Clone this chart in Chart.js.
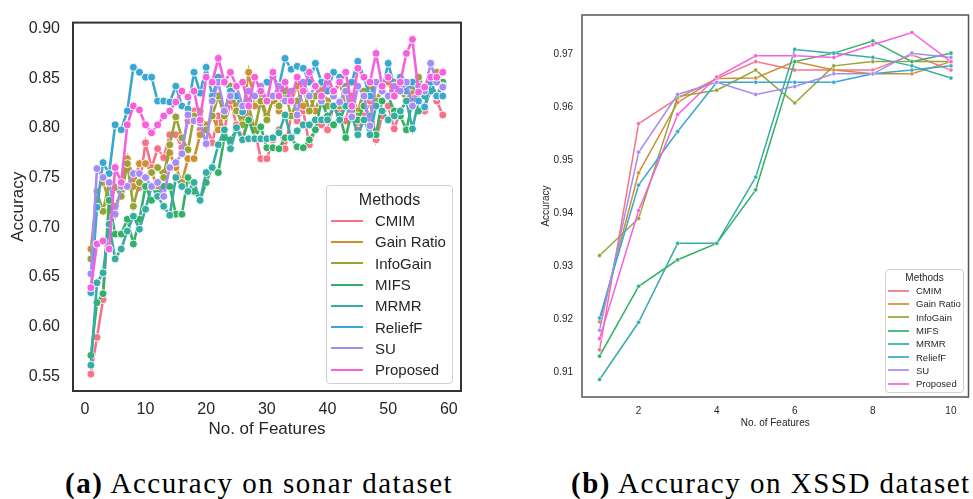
<!DOCTYPE html>
<html>
<head>
<meta charset="utf-8">
<script src="https://cdn.jsdelivr.net/npm/chart.js@4.4.1/dist/chart.umd.min.js"></script>
<style>
  body { margin: 0; background: #fff; width: 973px; height: 499px; position: relative; overflow: hidden; font-family: "Liberation Sans", Arial, sans-serif; }
  canvas { position: absolute; }
  #sonarChart { left: 0; top: 0; }
  #xssdChart { left: 530px; top: 0; }
  .legend { position: absolute; background: rgba(255,255,255,0.85); border: 1px solid #d0d0d0; border-radius: 4px; color: #262626; box-sizing: border-box; }
  .legend .ttl { text-align: center; }
  .legend .row { display: flex; align-items: center; white-space: nowrap; }
  .legend .swatch { display: inline-block; }
  #legendA { left: 326px; top: 185px; width: 127px; height: 199px; padding-top: 3px; }
  #legendA .ttl { font-size: 16px; line-height: 21px; }
  #legendA .row { font-size: 15px; height: 21.3px; padding-left: 4px; }
  #legendA .swatch { width: 32px; height: 2px; margin-right: 12px; }
  #legendB { left: 885px; top: 269px; width: 79px; height: 124px; padding-top: 1px; }
  #legendB .ttl { font-size: 10px; line-height: 13px; }
  #legendB .row { font-size: 9.5px; height: 13.3px; padding-left: 2px; }
  #legendB .swatch { width: 21px; height: 2px; margin-right: 7px; opacity: 0.85; }
  .caption { position: absolute; top: 467px; font-family: "Liberation Serif", "Times New Roman", serif; font-size: 29px; letter-spacing: 1.5px; color: #000; white-space: nowrap; }
  #capA { left: 65px; }
  #capB { left: 571px; }
</style>
</head>
<body>
<canvas id="sonarChart" width="470" height="450"></canvas>
<canvas id="xssdChart" width="443" height="440"></canvas>
<div id="legendA" class="legend"></div>
<div id="legendB" class="legend"></div>
<div id="capA" class="caption"><b>(a)</b> Accuracy on sonar dataset</div>
<div id="capB" class="caption"><b>(b)</b> Accuracy on XSSD dataset</div>

<script>
// ---- shared ----
const methods = ['CMIM', 'Gain Ratio', 'InfoGain', 'MIFS', 'MRMR', 'ReliefF', 'SU', 'Proposed'];
const colors = ['#f77189', '#ce9032', '#97a431', '#32b166', '#36ada4', '#39a7d0', '#a48cf4', '#f561dd'];

// ---- (a) sonar dataset ----
const sonarFeatures = [1, 2, 3, 4, 5, 6, 7, 8, 9, 10, 11, 12, 13, 14, 15, 16, 17, 18, 19, 20,
  21, 22, 23, 24, 25, 26, 27, 28, 29, 30, 31, 32, 33, 34, 35, 36, 37, 38, 39, 40,
  41, 42, 43, 44, 45, 46, 47, 48, 49, 50, 51, 52, 53, 54, 55, 56, 57, 58, 59];

const sonarCMIM = [0.552, 0.589, 0.627, 0.725, 0.740, 0.745, 0.769, 0.750, 0.740, 0.785,
  0.760, 0.779, 0.770, 0.793, 0.793, 0.780, 0.807, 0.817, 0.798, 0.803,
  0.785, 0.812, 0.798, 0.827, 0.803, 0.790, 0.812, 0.798, 0.769, 0.769,
  0.788, 0.798, 0.779, 0.812, 0.807, 0.817, 0.783, 0.798, 0.803, 0.798,
  0.822, 0.817, 0.807, 0.832, 0.798, 0.812, 0.827, 0.788, 0.812, 0.822,
  0.799, 0.817, 0.827, 0.832, 0.837, 0.817, 0.842, 0.827, 0.813];
const sonarGainRatio = [0.678, 0.736, 0.745, 0.727, 0.721, 0.736, 0.769, 0.741, 0.764, 0.764,
  0.755, 0.741, 0.755, 0.775, 0.760, 0.745, 0.769, 0.769, 0.793, 0.803,
  0.812, 0.798, 0.817, 0.837, 0.822, 0.812, 0.856, 0.822, 0.832, 0.812,
  0.827, 0.817, 0.837, 0.827, 0.842, 0.822, 0.832, 0.817, 0.837, 0.827,
  0.832, 0.846, 0.822, 0.832, 0.817, 0.837, 0.842, 0.827, 0.837, 0.846,
  0.832, 0.842, 0.827, 0.837, 0.846, 0.832, 0.851, 0.856, 0.846];
const sonarInfoGain = [0.668, 0.736, 0.716, 0.745, 0.740, 0.731, 0.764, 0.721, 0.745, 0.750,
  0.755, 0.760, 0.750, 0.783, 0.811, 0.790, 0.778, 0.812, 0.817, 0.798,
  0.812, 0.832, 0.812, 0.842, 0.817, 0.803, 0.822, 0.798, 0.827, 0.808,
  0.832, 0.822, 0.837, 0.812, 0.827, 0.842, 0.817, 0.832, 0.846, 0.822,
  0.837, 0.822, 0.842, 0.827, 0.812, 0.837, 0.846, 0.827, 0.842, 0.832,
  0.846, 0.837, 0.827, 0.842, 0.851, 0.837, 0.846, 0.832, 0.842];
const sonarMIFS = [0.571, 0.624, 0.633, 0.727, 0.693, 0.693, 0.708, 0.683, 0.708, 0.741,
  0.727, 0.734, 0.741, 0.741, 0.713, 0.713, 0.750, 0.736, 0.727, 0.745,
  0.760, 0.755, 0.790, 0.788, 0.798, 0.788, 0.808, 0.790, 0.801, 0.780,
  0.780, 0.779, 0.790, 0.790, 0.781, 0.780, 0.788, 0.798, 0.827, 0.812,
  0.803, 0.812, 0.790, 0.817, 0.808, 0.822, 0.812, 0.793, 0.827, 0.832,
  0.817, 0.812, 0.798, 0.827, 0.817, 0.822, 0.837, 0.832, 0.846];
const sonarMRMR = [0.561, 0.644, 0.654, 0.703, 0.668, 0.678, 0.696, 0.711, 0.698, 0.718,
  0.741, 0.731, 0.721, 0.712, 0.750, 0.741, 0.736, 0.745, 0.727, 0.755,
  0.760, 0.783, 0.798, 0.779, 0.800, 0.788, 0.789, 0.789, 0.789, 0.789,
  0.790, 0.795, 0.813, 0.790, 0.797, 0.803, 0.803, 0.808, 0.808, 0.808,
  0.822, 0.808, 0.822, 0.812, 0.793, 0.808, 0.793, 0.822, 0.817, 0.808,
  0.812, 0.817, 0.827, 0.799, 0.827, 0.832, 0.837, 0.832, 0.842];
const sonarReliefF = [0.634, 0.720, 0.765, 0.754, 0.803, 0.798, 0.817, 0.861, 0.856, 0.851,
  0.851, 0.827, 0.827, 0.826, 0.842, 0.822, 0.819, 0.856, 0.835, 0.861,
  0.832, 0.851, 0.846, 0.837, 0.832, 0.816, 0.827, 0.832, 0.842, 0.846,
  0.852, 0.842, 0.870, 0.859, 0.862, 0.860, 0.846, 0.865, 0.846, 0.837,
  0.856, 0.851, 0.837, 0.846, 0.867, 0.851, 0.832, 0.846, 0.837, 0.865,
  0.842, 0.851, 0.837, 0.846, 0.827, 0.821, 0.846, 0.832, 0.832];
const sonarSU = [0.653, 0.759, 0.750, 0.745, 0.713, 0.741, 0.741, 0.754, 0.754, 0.750,
  0.741, 0.745, 0.731, 0.760, 0.765, 0.774, 0.813, 0.807, 0.805, 0.784,
  0.827, 0.846, 0.817, 0.832, 0.842, 0.822, 0.837, 0.832, 0.842, 0.827,
  0.832, 0.842, 0.827, 0.837, 0.813, 0.846, 0.832, 0.842, 0.827, 0.846,
  0.832, 0.826, 0.837, 0.811, 0.842, 0.832, 0.802, 0.846, 0.837, 0.832,
  0.842, 0.837, 0.846, 0.822, 0.842, 0.837, 0.865, 0.846, 0.841];
const sonarProposed = [0.639, 0.683, 0.686, 0.678, 0.760, 0.745, 0.803, 0.822, 0.818, 0.803,
  0.795, 0.803, 0.812, 0.817, 0.826, 0.837, 0.831, 0.837, 0.808, 0.851,
  0.846, 0.870, 0.846, 0.856, 0.842, 0.846, 0.822, 0.851, 0.837, 0.827,
  0.856, 0.832, 0.846, 0.827, 0.851, 0.837, 0.856, 0.842, 0.832, 0.852,
  0.837, 0.846, 0.856, 0.822, 0.860, 0.851, 0.846, 0.875, 0.842, 0.851,
  0.832, 0.846, 0.875, 0.889, 0.836, 0.841, 0.851, 0.851, 0.856];

const sonarXTicks = [0, 10, 20, 30, 40, 50, 60];
const sonarYTicks = [0.55, 0.60, 0.65, 0.70, 0.75, 0.80, 0.85, 0.90];

// ---- (b) XSSD dataset ----
const xssdFeatures = [1, 2, 3, 4, 5, 6, 7, 8, 9, 10];
const xssdCMIM     = [0.9142, 0.9569, 0.9617, 0.9654, 0.9686, 0.9670, 0.9670, 0.9670, 0.9699, 0.9670];
const xssdGainRatio= [0.9195, 0.9476, 0.9609, 0.9654, 0.9655, 0.9686, 0.9670, 0.9663, 0.9663, 0.9686];
const xssdInfoGain = [0.9320, 0.9390, 0.9620, 0.9632, 0.9670, 0.9608, 0.9678, 0.9686, 0.9686, 0.9686];
const xssdMIFS     = [0.9130, 0.9262, 0.9312, 0.9343, 0.9444, 0.9686, 0.9702, 0.9725, 0.9686, 0.9702];
const xssdMRMR     = [0.9086, 0.9194, 0.9343, 0.9343, 0.9468, 0.9709, 0.9702, 0.9694, 0.9678, 0.9655];
const xssdReliefF  = [0.9202, 0.9453, 0.9554, 0.9647, 0.9647, 0.9647, 0.9647, 0.9663, 0.9670, 0.9678];
const xssdSU       = [0.9179, 0.9515, 0.9624, 0.9647, 0.9624, 0.9639, 0.9663, 0.9663, 0.9702, 0.9694];
const xssdProposed = [0.9163, 0.9405, 0.9586, 0.9657, 0.9697, 0.9697, 0.9694, 0.9718, 0.9741, 0.9686];

const xssdXTicks = [2, 4, 6, 8, 10];
const xssdYTicks = [0.91, 0.92, 0.93, 0.94, 0.95, 0.96, 0.97];

// ---- frame around plot area (seaborn spines) ----
const framePlugin = {
  id: 'frame',
  afterDraw(chart, args, opts) {
    const { ctx, chartArea: a } = chart;
    ctx.save();
    ctx.strokeStyle = opts.color;
    ctx.lineWidth = opts.width;
    ctx.strokeRect(a.left, a.top, a.right - a.left, a.bottom - a.top);
    ctx.restore();
  }
};

function buildDatasets(xs, seriesList, s) {
  return seriesList.map((ys, i) => ({
    label: methods[i],
    data: xs.map((x, j) => ({ x: x, y: ys[j] })),
    borderColor: colors[i],
    backgroundColor: colors[i],
    pointBackgroundColor: colors[i],
    pointBorderColor: '#ffffff',
    pointBorderWidth: s.pointBorder,
    pointRadius: s.pointRadius,
    borderWidth: s.lineWidth,
    tension: 0,
    order: methods.length - i
  }));
}

function makeChart(id, xs, seriesList, s) {
  const tickColor = '#262626';
  return new Chart(document.getElementById(id), {
    type: 'line',
    data: { datasets: buildDatasets(xs, seriesList, s) },
    options: {
      responsive: false,
      animation: false,
      devicePixelRatio: 1,
      layout: { padding: { top: s.top, right: s.right, left: 0, bottom: 0 } },
      plugins: {
        legend: { display: false },
        tooltip: { enabled: false },
        frame: { color: s.frameColor, width: s.frameWidth }
      },
      scales: {
        x: {
          type: 'linear',
          min: s.xMin, max: s.xMax,
          grid: { display: false, drawTicks: false },
          border: { display: false },
          afterBuildTicks: sc => { sc.ticks = s.xTicks.map(v => ({ value: v })); },
          afterFit: sc => { sc.height = s.xAxisH; },
          ticks: {
            color: tickColor, padding: s.xTickPad, maxRotation: 0,
            font: { family: 'Liberation Sans', size: s.tickSize },
            callback: v => String(v)
          },
          title: {
            display: true, text: 'No. of Features', color: tickColor,
            font: { family: 'Liberation Sans', size: s.titleSize },
            padding: { top: 0, bottom: s.xTitlePad }
          }
        },
        y: {
          min: s.yMin, max: s.yMax,
          grid: { display: false, drawTicks: false },
          border: { display: false },
          afterBuildTicks: sc => { sc.ticks = s.yTicks.map(v => ({ value: v })); },
          afterFit: sc => { sc.width = s.yAxisW; },
          ticks: {
            color: tickColor, padding: s.yTickPad,
            font: { family: 'Liberation Sans', size: s.tickSize },
            callback: v => v.toFixed(2)
          },
          title: {
            display: true, text: 'Accuracy', color: tickColor,
            font: { family: 'Liberation Sans', size: s.titleSize },
            padding: { top: s.yTitlePad, bottom: 0 }
          }
        }
      }
    },
    plugins: [framePlugin]
  });
}

makeChart('sonarChart', sonarFeatures,
  [sonarCMIM, sonarGainRatio, sonarInfoGain, sonarMIFS, sonarMRMR, sonarReliefF, sonarSU, sonarProposed],
  {
    xMin: -1.95, xMax: 62.0, yMin: 0.535, yMax: 0.906,
    xTicks: sonarXTicks, yTicks: sonarYTicks,
    top: 14, right: 9, yAxisW: 73, xAxisH: 59,
    tickSize: 16, titleSize: 17,
    xTickPad: 9, yTickPad: 13, xTitlePad: 10, yTitlePad: 8,
    lineWidth: 2.6, pointRadius: 4, pointBorder: 0.9,
    frameColor: '#333333', frameWidth: 2
  });

makeChart('xssdChart', xssdFeatures,
  [xssdCMIM, xssdGainRatio, xssdInfoGain, xssdMIFS, xssdMRMR, xssdReliefF, xssdSU, xssdProposed],
  {
    xMin: 0.55, xMax: 10.45, yMin: 0.9053, yMax: 0.9774,
    xTicks: xssdXTicks, yTicks: xssdYTicks,
    top: 14, right: 4, yAxisW: 52, xAxisH: 43,
    tickSize: 10, titleSize: 10,
    xTickPad: 8, yTickPad: 9, xTitlePad: 11, yTitlePad: 10,
    lineWidth: 1.5, pointRadius: 2.1, pointBorder: 0.5,
    frameColor: '#555555', frameWidth: 1.5
  });

// ---- legends ----
function buildLegend(id) {
  const box = document.getElementById(id);
  let html = '<div class="ttl">Methods</div>';
  methods.forEach((m, i) => {
    html += '<div class="row"><span class="swatch" style="background:' + colors[i] + '"></span>' + m + '</div>';
  });
  box.innerHTML = html;
}
buildLegend('legendA');
buildLegend('legendB');
</script>
</body>
</html>
